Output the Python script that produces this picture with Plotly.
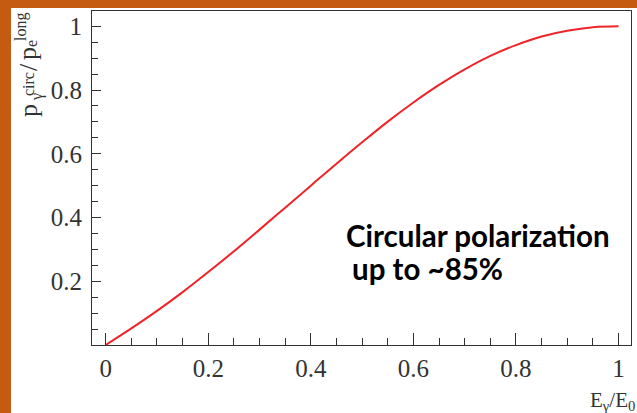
import plotly.graph_objects as go

# Data
energy_fraction = [0.0, 0.05, 0.10, 0.15, 0.20, 0.25, 0.30, 0.35, 0.40, 0.45, 0.50,
                   0.55, 0.60, 0.65, 0.70, 0.75, 0.80, 0.85, 0.90, 0.95, 1.00]
polarization_ratio = [0.0, 0.052, 0.107, 0.166, 0.229, 0.294, 0.362, 0.431, 0.500, 0.569, 0.636,
                      0.701, 0.761, 0.816, 0.865, 0.907, 0.941, 0.968, 0.986, 0.997, 1.000]
x_tick_vals = [0, 0.2, 0.4, 0.6, 0.8, 1.0]
x_tick_text = ["0", "0.2", "0.4", "0.6", "0.8", "1"]
y_tick_vals = [0.2, 0.4, 0.6, 0.8, 1.0]
y_tick_text = ["0.2", "0.4", "0.6", "0.8", "1"]

W, H = 637, 413
L, R, T, B = 92, 6, 11, 68
pw, ph = W - L - R, H - T - B

def px_x(p):
    return (p - L) / pw

def px_y(p):
    return (H - B - p) / ph

ORANGE = "#C55A11"
SERIF = "Liberation Serif"
INK = "#333"

fig = go.Figure()
fig.add_trace(go.Scatter(
    x=energy_fraction, y=polarization_ratio, mode="lines",
    line=dict(color="#ee2428", width=2, shape="spline"),
    showlegend=False, hoverinfo="skip"))

axis_common = dict(
    showline=True, linecolor=INK, linewidth=1, mirror=True,
    ticks="inside", tickcolor=INK, showgrid=False, zeroline=False,
    tickfont=dict(family=SERIF, size=25, color=INK), automargin=False,
)
fig.update_xaxes(range=[-0.0267, 1.0243], tickvals=x_tick_vals, ticktext=x_tick_text,
                 ticklen=12, ticklabelstandoff=1,
                 minor=dict(ticks="inside", ticklen=7, dtick=0.05, tick0=0, tickcolor=INK),
                 **axis_common)
fig.update_yaxes(range=[0, 1.048], tickvals=y_tick_vals, ticktext=y_tick_text,
                 ticklen=9, ticklabelstandoff=4,
                 minor=dict(ticks="inside", ticklen=6, dtick=0.05, tick0=0, tickcolor=INK),
                 **axis_common)

# Orange slide border strips
fig.add_shape(type="rect", xref="paper", yref="paper", layer="below",
              x0=px_x(0), x1=px_x(11), y0=px_y(H), y1=px_y(0),
              fillcolor=ORANGE, line=dict(width=0))
fig.add_shape(type="rect", xref="paper", yref="paper", layer="below",
              x0=px_x(0), x1=px_x(W), y0=px_y(8), y1=px_y(0),
              fillcolor=ORANGE, line=dict(width=0))

# Y axis title, built from pieces so sub/superscripts stack as in the reference
title_pieces = [
    ("p", 26, 28, 111),
    ("γ", 16, 37, 97),
    ("circ", 16, 28, 84),
    ("/", 26, 28, 67),
    ("p", 26, 28, 54),
    ("e", 16, 32, 44),
    ("long", 16, 21, 27),
]
for txt, size, cx, cy in title_pieces:
    fig.add_annotation(xref="paper", yref="paper", x=px_x(cx), y=px_y(cy),
                       xanchor="center", yanchor="middle",
                       text=txt, textangle=-90, showarrow=False,
                       font=dict(family=SERIF, size=size, color=INK))

# X axis title
fig.add_annotation(xref="paper", yref="paper", x=px_x(637), y=px_y(401),
                   xanchor="right", yanchor="middle",
                   text="E<sub>γ</sub>/E<sub>0</sub>", showarrow=False,
                   font=dict(family=SERIF, size=21, color=INK))

# Text label
LABEL_FONT = dict(family="Lato", size=29.5, color="black", weight="bold")
fig.add_annotation(xref="paper", yref="paper", x=px_x(344), y=px_y(235),
                   xanchor="left", yanchor="middle",
                   text="Circular polarization", showarrow=False, font=LABEL_FONT)
fig.add_annotation(xref="paper", yref="paper", x=px_x(350), y=px_y(268),
                   xanchor="left", yanchor="middle",
                   text="up to ~85%", showarrow=False, font=LABEL_FONT)

fig.update_layout(
    width=W, height=H,
    margin=dict(l=L, r=R, t=T, b=B, pad=0),
    paper_bgcolor="white", plot_bgcolor="white",
)

fig.write_html("out.html", config={"displayModeBar": False},
               post_script="document.body.style.margin='0';document.body.style.padding='0';")
